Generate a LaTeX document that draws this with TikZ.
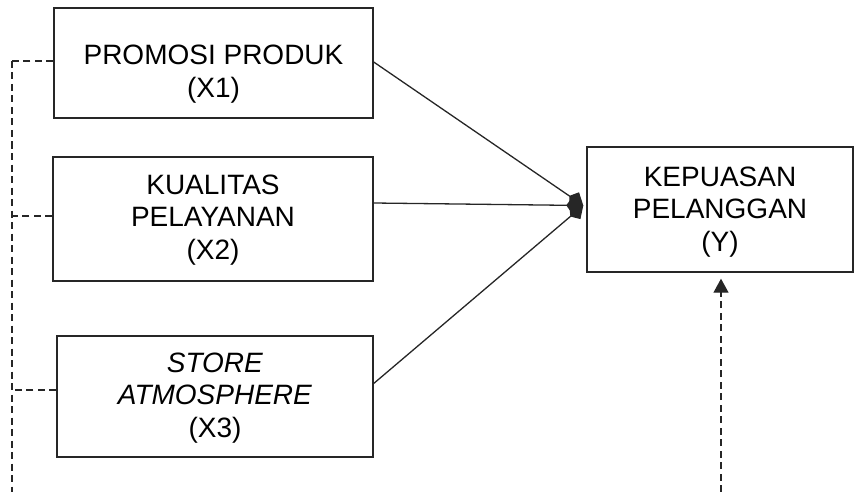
\documentclass[tikz,border=0pt]{standalone}
\usepackage{fontspec}
\setmainfont{Liberation Sans}
\usetikzlibrary{arrows.meta}
\begin{document}
\begin{tikzpicture}[x=1pt,y=-1pt,
  box/.style={draw=black!85, line width=1.4pt, inner sep=0pt},
  txt/.style={align=center, inner sep=0pt, font=\fontsize{28}{32.5}\selectfont},
  conn/.style={line width=1.3pt, draw=black!85},
  kite/.style={-{Kite[length=17pt,width=17pt,inset=6pt]}},
  dsh/.style={line width=1.3pt, draw=black!85, dash pattern=on 7pt off 4.5pt}]
\useasboundingbox (0,0) rectangle (859,492);
\node[box, minimum width=319pt, minimum height=110pt] (b1) at (213.5,63) {};
\node[txt] (b1t) at ([yshift=-11pt]b1.center) {PROMOSI PRODUK\\(X1)};
\node[box, minimum width=320pt, minimum height=124pt] (b2) at (213,219) {};
\node[txt] (b2t) at ([yshift=-1pt]b2.center) {KUALITAS\\PELAYANAN\\(X2)};
\node[box, minimum width=316pt, minimum height=121pt] (b3) at (215,396.5) {};
\node[txt] (b3t) at ([yshift=-1.5pt]b3.center) {\textit{STORE}\\\textit{ATMOSPHERE}\\(X3)};
\node[box, minimum width=266pt, minimum height=125pt] (y) at (720,209.5) {};
\node[txt] (yt) at ([yshift=-2.5pt]y.center) {KEPUASAN\\PELANGGAN\\(Y)};
% converging connectors
\coordinate (tip) at ([xshift=-3pt,yshift=4pt]y.west);
\draw[conn, kite] ([yshift=1pt]b1.east) -- (tip);
\draw[conn, kite] ([yshift=16pt]b2.east) -- (tip);
\draw[conn, kite] ([yshift=13pt]b3.east) -- (tip);
% dashed left frame
\coordinate (ltop) at (12,61);
\coordinate (lbot) at (12,492);
\draw[dsh] (ltop) -- (lbot);
\draw[dsh] ([yshift=2pt]b1.west) -- ([yshift=2pt]b1.west -| ltop);
\draw[dsh] ([yshift=3pt]b2.west) -- ([yshift=3pt]b2.west -| ltop);
\draw[dsh] ([yshift=6.5pt]b3.west) -- ([yshift=6.5pt]b3.west -| ltop);
% dashed up arrow
\coordinate (ubot) at (721,492);
\draw[dsh, -{Triangle[length=14pt,width=15pt]}] (ubot) -- ([xshift=1pt,yshift=-6pt]y.south);
\end{tikzpicture}
\end{document}
